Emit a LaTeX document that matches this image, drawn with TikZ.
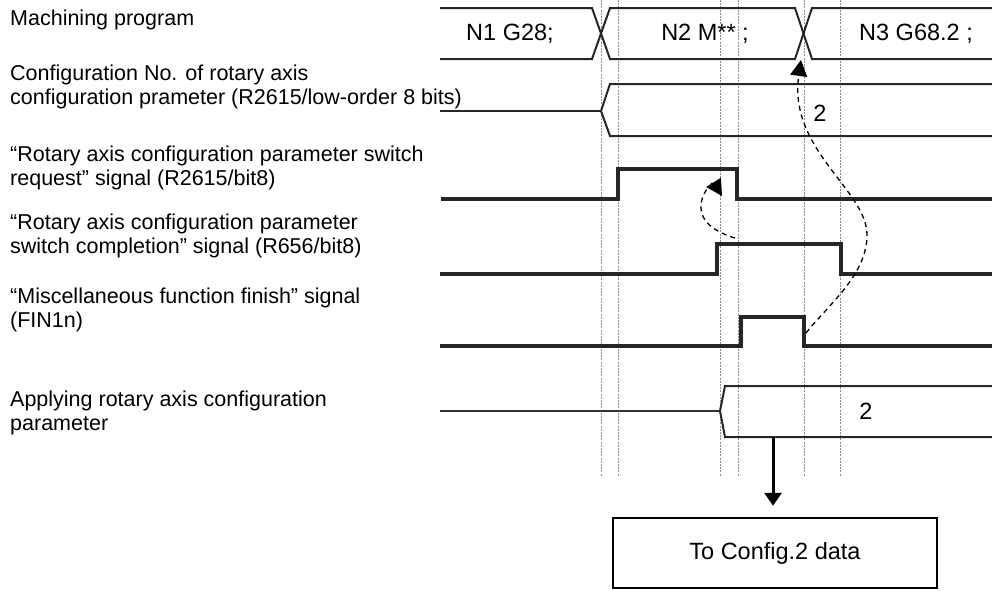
\documentclass[tikz,border=0pt]{standalone}
\usepackage{fontspec}
\setmainfont{Liberation Sans}
\usetikzlibrary{arrows.meta}
\tikzset{
  lbl/.style={anchor=west, align=left, inner sep=0pt, font=\fontsize{21.5}{24}\selectfont},
  val/.style={inner sep=0pt, font=\fontsize{23.5}{26}\selectfont},
  guide/.style={draw=black!45, line width=0.8pt, dash pattern=on 2pt off 1.2pt},
  bus/.style={draw=black!85, line width=2pt, line join=miter},
  sig/.style={draw=black!85, line width=3.5pt, line join=miter},
  thinbus/.style={draw=black!80, line width=1.6pt},
  dasharrow/.style={draw=black, line width=1.3pt, dash pattern=on 5pt off 4pt, -{Triangle[length=16pt,width=17pt]}},
  mainarrow/.style={draw=black, line width=3pt, -{Triangle[length=13pt,width=17pt]}},
  cfgbox/.style={draw=black, line width=2.5pt, minimum width=324pt, minimum height=70pt, inner sep=0pt, font=\fontsize{23.5}{26}\selectfont}
}
\begin{document}
\begin{tikzpicture}[x=1pt,y=-1pt]
\useasboundingbox (0,0) rectangle (992,590);
% guide lines
\foreach \gx in {601,618,720,738,804,840}
  \draw[guide] (\gx,0) -- (\gx,476);
% labels
\node[lbl] (l1) at (10,20) {Machining program};
\node[lbl] (l2) at (10,87) {Configuration No. of rotary axis\\configuration prameter (R2615/low-order 8 bits)};
\node[lbl] (l3) at (10,168) {“Rotary axis configuration parameter switch\\request” signal (R2615/bit8)};
\node[lbl] (l4) at (10,236) {“Rotary axis configuration parameter\\switch completion” signal (R656/bit8)};
\node[lbl] (l5) at (10,310) {“Miscellaneous function finish” signal\\(FIN1n)};
\node[lbl] (l6) at (10,413) {Applying rotary axis configuration\\parameter};
% row 1 machining program
\draw[bus] (440,8) -- (592,8) -- (610,59) -- (795,59) -- (812,8) -- (992,8);
\draw[bus] (440,59) -- (592,59) -- (610,8) -- (795,8) -- (812,59) -- (992,59);
\node[val] (n1) at (510,34) {N1 G28;};
\node[val] (n2) at (705,34) {N2 M** ;};
\node[val] (n3) at (916,34) {N3 G68.2 ;};
% row 2
\draw[bus] (440,111) -- (601,111);
\draw[bus] (992,84) -- (610,84) -- (601,111) -- (610,136) -- (992,136);
\node[val] (c2) at (820,113) {2};
% row 3
\draw[sig] (441,199) -- (618,199) -- (618,169) -- (737,169) -- (737,199) -- (992,199);
% row 4
\draw[sig] (440,274) -- (717,274) -- (717,244) -- (841,244) -- (841,274) -- (992,274);
% row 5
\draw[sig] (440,346) -- (741,346) -- (741,317) -- (804,317) -- (804,346) -- (992,346);
% row 6
\draw[thinbus] (440,411) -- (720,411);
\draw[bus] (992,386) -- (725,386) -- (720,411) -- (725,437) -- (992,437);
\node[val] (a2) at (866,411) {2};
% config box
\node[cfgbox] (cfg) at (775,553) {To Config.2 data};
% coordinates for connectors
\coordinate (finfall) at (806,333);
\coordinate (n3start) at (801,60);
\coordinate (cmprise) at (735,238);
\coordinate (reqfall) at (722,196);
\coordinate (applybot) at (773,437);
\coordinate (bend) at (867,235);
% dashed arrows
\draw[dasharrow] (finfall) .. controls (828,305) and (867,275) .. (bend)
   .. controls (867,190) and (788,150) .. (n3start);
\draw[dasharrow] (cmprise) .. controls (675,220) and (712,180) .. (reqfall);
% main arrow
\draw[mainarrow] (applybot) -- ([yshift=11pt]cfg.north -| applybot);
\end{tikzpicture}
\end{document}
